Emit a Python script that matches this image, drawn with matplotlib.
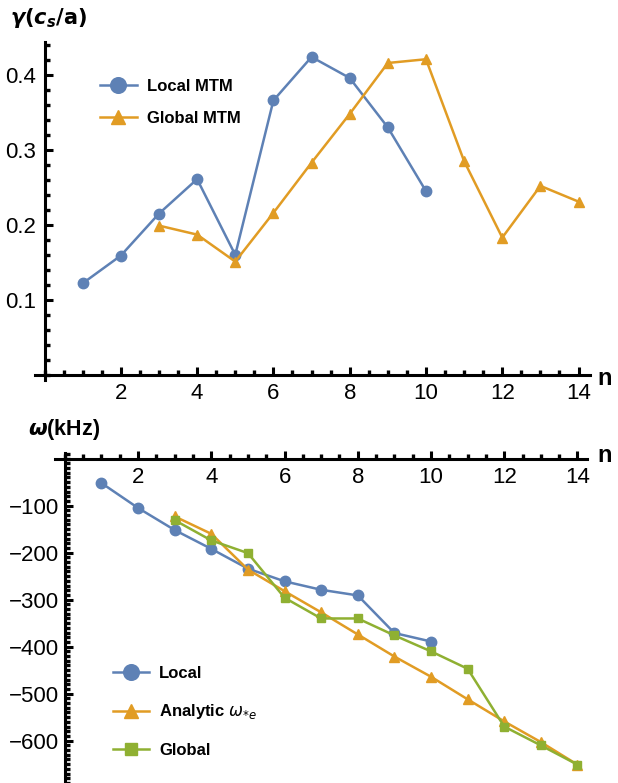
import matplotlib
matplotlib.use('Agg')
import matplotlib.pyplot as plt
from matplotlib.ticker import MultipleLocator

plt.rcParams['font.family'] = ['Liberation Sans', 'DejaVu Sans']
plt.rcParams['mathtext.fontset'] = 'dejavusans'

BLUE = '#5E81B5'
ORANGE = '#E19C24'
GREEN = '#8FB032'

# growth rate (top)
n_local = [1, 2, 3, 4, 5, 6, 7, 8, 9, 10]
gamma_local = [0.122, 0.159, 0.215, 0.261, 0.160, 0.366, 0.424, 0.396, 0.330, 0.245]
n_global = [3, 4, 5, 6, 7, 8, 9, 10, 11, 12, 13, 14]
gamma_global = [0.199, 0.187, 0.151, 0.216, 0.283, 0.348, 0.416, 0.421, 0.285, 0.183, 0.252, 0.231]

# frequency (bottom)
omega_local = [-52, -105, -152, -192, -234, -261, -279, -291, -371, -389]
n_analytic = [3, 4, 5, 6, 7, 8, 9, 10, 11, 12, 13, 14]
omega_analytic = [-123, -160, -236, -282, -327, -374, -421, -464, -512, -559, -603, -651]
omega_global = [-131, -174, -201, -296, -340, -340, -376, -410, -447, -570, -610, -651]


def style_axes(ax):
    for s in ['top', 'right']:
        ax.spines[s].set_visible(False)
    ax.spines['left'].set_position(('data', 0))
    ax.spines['bottom'].set_position(('data', 0))
    for s in ['left', 'bottom']:
        ax.spines[s].set_linewidth(2.2)
    ax.xaxis.set_major_locator(MultipleLocator(2))
    ax.xaxis.set_minor_locator(MultipleLocator(0.5))
    ax.tick_params(which='major', direction='in', length=6, width=2.2,
                   labelsize=16, pad=6)
    ax.tick_params(which='minor', direction='in', length=3.5, width=2.4)


fig = plt.figure(figsize=(6.18, 7.83), dpi=100)

# top panel
ax1 = fig.add_axes([35 / 618, 1 - 380 / 783, 555 / 618, 338 / 783])
ax1.plot(n_local, gamma_local, color=BLUE, lw=1.8, marker='o', ms=7.5,
         label='Local MTM')
ax1.plot(n_global, gamma_global, color=ORANGE, lw=1.8, marker='^', ms=6.5,
         label='Global MTM')
ax1.set_xlim(-0.25, 14.3)
ax1.set_ylim(-0.007, 0.444)
style_axes(ax1)
ax1.yaxis.set_minor_locator(MultipleLocator(0.02))
ax1.set_yticks([0.1, 0.2, 0.3, 0.4])
ax1.set_yticklabels(['0.1', '0.2', '0.3', '0.4'])
ax1.set_xticks([2, 4, 6, 8, 10, 12, 14])
ax1.legend(loc='upper left', bbox_to_anchor=(0.09, 0.935), frameon=False,
           prop={'weight': 'bold', 'size': 12}, markerscale=1.5,
           handlelength=2.2, labelspacing=1.0, handletextpad=0.6)
fig.text(10 / 618, 1 - 18 / 783,
         r'$\boldsymbol{\gamma(c}_{\boldsymbol{s}}\boldsymbol{/}\mathbf{a)}$',
         fontsize=15, va='center', ha='left')
fig.text(597 / 618, 1 - 378 / 783, 'n', fontsize=17, fontweight='bold',
         va='center', ha='left')

# bottom panel
ax2 = fig.add_axes([55 / 618, 0, 532 / 618, 330 / 783])
ax2.plot(n_local, omega_local, color=BLUE, lw=1.8, marker='o', ms=7.5,
         label='Local')
ax2.plot(n_analytic, omega_analytic, color=ORANGE, lw=1.8, marker='^', ms=6.5,
         label=r'Analytic $\omega_{*e}$')
ax2.plot(n_global, omega_global, color=GREEN, lw=1.8, marker='s', ms=5.5,
         label='Global')
ax2.set_xlim(-0.27, 14.26)
ax2.set_ylim(-690, 12)
style_axes(ax2)
ax2.set_yticks([-100, -200, -300, -400, -500, -600])
ax2.set_yticklabels(['\u2212100', '\u2212200', '\u2212300', '\u2212400',
                     '\u2212500', '\u2212600'])
ax2.yaxis.set_minor_locator(MultipleLocator(10))
ax2.set_xticks([2, 4, 6, 8, 10, 12, 14])
ax2.tick_params(axis='y', pad=4)
ax2.legend(loc='lower left', bbox_to_anchor=(0.08, 0.03), frameon=False,
           prop={'weight': 'bold', 'size': 12}, markerscale=1.5,
           handlelength=2.2, labelspacing=1.3, handletextpad=0.6)
fig.text(28 / 618, 1 - 430 / 783, r'$\boldsymbol{\omega}$(kHz)', fontsize=15.5,
         fontweight='bold', va='center', ha='left')
fig.text(597 / 618, 1 - 456 / 783, 'n', fontsize=17, fontweight='bold',
         va='center', ha='left')

fig.savefig('out.png', dpi=100)
